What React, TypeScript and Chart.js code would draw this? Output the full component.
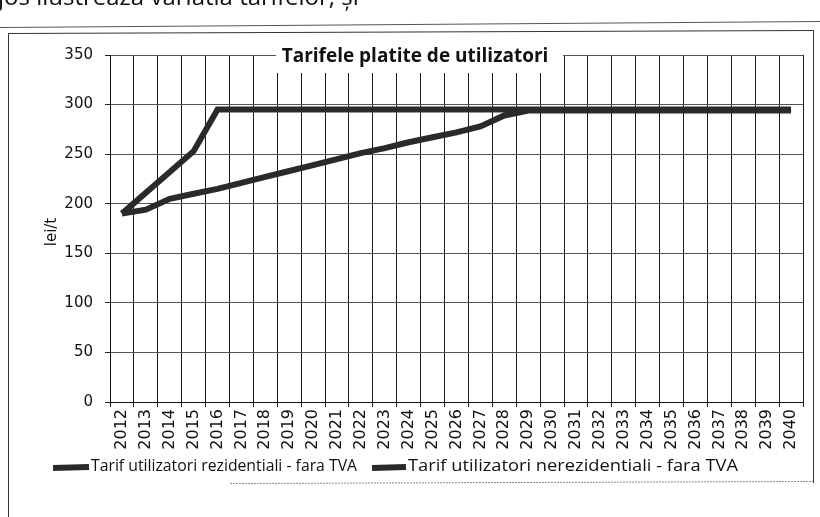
import { useEffect, useRef } from 'react';
import { Chart, registerables } from 'chart.js';

Chart.register(...registerables);

const years = [
  '2012', '2013', '2014', '2015', '2016', '2017', '2018', '2019', '2020', '2021',
  '2022', '2023', '2024', '2025', '2026', '2027', '2028', '2029', '2030', '2031',
  '2032', '2033', '2034', '2035', '2036', '2037', '2038', '2039', '2040',
];

const rezidentiali = [
  190, 211, 232, 253, 295, 295, 295, 295, 295, 295,
  295, 295, 295, 295, 295, 295, 295, 295, 295, 295,
  295, 295, 295, 295, 295, 295, 295, 295, 295,
];

const nerezidentiali = [
  190, 194, 205, 210, 215, 221, 227, 233, 239, 245,
  251, 256, 262, 267, 272, 278, 289, 294, 294, 294,
  294, 294, 294, 294, 294, 294, 294, 294, 294,
];

const yMin = 0;
const yMax = 350;
const yStep = 50;

const titleText = 'Tarifele platite de utilizatori';
const yAxisTitle = 'lei/t';
const legendLabels = [
  'Tarif utilizatori rezidentiali - fara TVA',
  'Tarif utilizatori nerezidentiali - fara TVA',
];
const headerText = 'jos ilustreaza variatia tarifelor, și';

const LINE_COLOR = '#2a2a2a';

const decorPlugin = {
  id: 'decor',
  beforeDraw(chart: any) {
    const ctx = chart.ctx;
    ctx.save();
    ctx.fillStyle = '#ffffff';
    ctx.fillRect(0, 0, chart.width, chart.height);
    ctx.restore();
  },
  afterDraw(chart: any) {
    const ctx = chart.ctx;
    ctx.save();

    // clipped header text from the scanned page
    ctx.fillStyle = '#111';
    ctx.font = '24px "Open Sans", sans-serif';
    ctx.textBaseline = 'alphabetic';
    ctx.textAlign = 'left';
    ctx.fillText(headerText, -2, 5);

    // page rule under header
    ctx.strokeStyle = '#555';
    ctx.lineWidth = 1;
    ctx.beginPath();
    ctx.moveTo(0, 27.5);
    ctx.lineTo(820, 21.5);
    ctx.stroke();

    // outer chart frame
    ctx.strokeStyle = '#333';
    ctx.beginPath();
    ctx.moveTo(8.5, 517);
    ctx.lineTo(8.5, 33.5);
    ctx.lineTo(813.5, 30.5);
    ctx.lineTo(813.5, 483);
    ctx.stroke();
    ctx.strokeStyle = '#888';
    ctx.setLineDash([2, 1]);
    ctx.beginPath();
    ctx.moveTo(230, 483.5);
    ctx.lineTo(813, 481.5);
    ctx.stroke();
    ctx.setLineDash([]);

    // title with opaque box
    ctx.fillStyle = '#ffffff';
    ctx.fillRect(276, 38, 287, 35);
    ctx.fillStyle = '#111';
    ctx.font = 'bold 19px "Open Sans", "DejaVu Sans", sans-serif';
    ctx.textAlign = 'center';
    ctx.textBaseline = 'middle';
    ctx.fillText(titleText, 415, 57);

    // y axis title
    ctx.save();
    ctx.translate(52, 232);
    ctx.rotate(-Math.PI / 2);
    ctx.font = '15px "DejaVu Sans", sans-serif';
    ctx.textAlign = 'center';
    ctx.textBaseline = 'middle';
    ctx.fillText(yAxisTitle, 0, 0);
    ctx.restore();

    // legend
    const items = [
      { x: 53, w: 36, tx: 91, tw: 266 },
      { x: 372, w: 34, tx: 408, tw: 330 },
    ];
    ctx.font = '16px "Open Sans", sans-serif';
    ctx.textAlign = 'left';
    ctx.textBaseline = 'middle';
    items.forEach((it, i) => {
      ctx.strokeStyle = LINE_COLOR;
      ctx.lineWidth = 6;
      ctx.beginPath();
      ctx.moveTo(it.x, 468);
      ctx.lineTo(it.x + it.w, 467);
      ctx.stroke();
      ctx.fillStyle = '#111';
      const m = ctx.measureText(legendLabels[i]).width;
      ctx.save();
      ctx.translate(it.tx, 466);
      ctx.scale(it.tw / m, 1);
      ctx.fillText(legendLabels[i], 0, 0);
      ctx.restore();
    });

    ctx.restore();
  },
};

export default function App() {
  const canvasRef = useRef<HTMLCanvasElement | null>(null);

  useEffect(() => {
    document.body.style.margin = '0';
    const canvas = canvasRef.current;
    if (!canvas) return;
    const chart = new Chart(canvas, {
      type: 'line',
      data: {
        labels: years,
        datasets: [
          {
            label: legendLabels[0],
            data: rezidentiali,
            borderColor: LINE_COLOR,
            borderWidth: 6,
            pointRadius: 0,
            tension: 0,
            fill: false,
          },
          {
            label: legendLabels[1],
            data: nerezidentiali,
            borderColor: LINE_COLOR,
            borderWidth: 6,
            pointRadius: 0,
            tension: 0,
            fill: false,
          },
        ],
      },
      options: {
        responsive: false,
        animation: false,
        devicePixelRatio: 1,
        layout: { padding: { left: 0, right: 17, top: 55, bottom: 0 } },
        plugins: {
          legend: { display: false },
          title: { display: false },
          tooltip: { enabled: false },
        },
        scales: {
          x: {
            offset: true,
            grid: {
              offset: true,
              color: '#1a1a1a',
              lineWidth: 1,
              tickLength: 5,
              tickColor: '#222',
            },
            border: { display: true, color: '#111', width: 1 },
            ticks: {
              autoSkip: false,
              maxRotation: 90,
              minRotation: 90,
              padding: 2,
              color: '#111',
              font: { family: '"DejaVu Sans", sans-serif', size: 16 },
            },
            afterFit(scale: any) {
              scale.height = 115;
            },
          },
          y: {
            min: yMin,
            max: yMax,
            grid: {
              color: '#555',
              lineWidth: 1,
              tickLength: 5,
              tickColor: '#222',
            },
            border: { display: true, color: '#111', width: 1 },
            ticks: {
              stepSize: yStep,
              padding: 12,
              color: '#111',
              font: { family: '"DejaVu Sans", sans-serif', size: 15 },
            },
            afterFit(scale: any) {
              scale.width = 110;
            },
          },
        },
      },
      plugins: [decorPlugin],
    });
    return () => chart.destroy();
  }, []);

  return (
    <div style={{ width: 820, height: 517 }}>
      <canvas ref={canvasRef} width={820} height={517} style={{ display: 'block' }} />
    </div>
  );
}
